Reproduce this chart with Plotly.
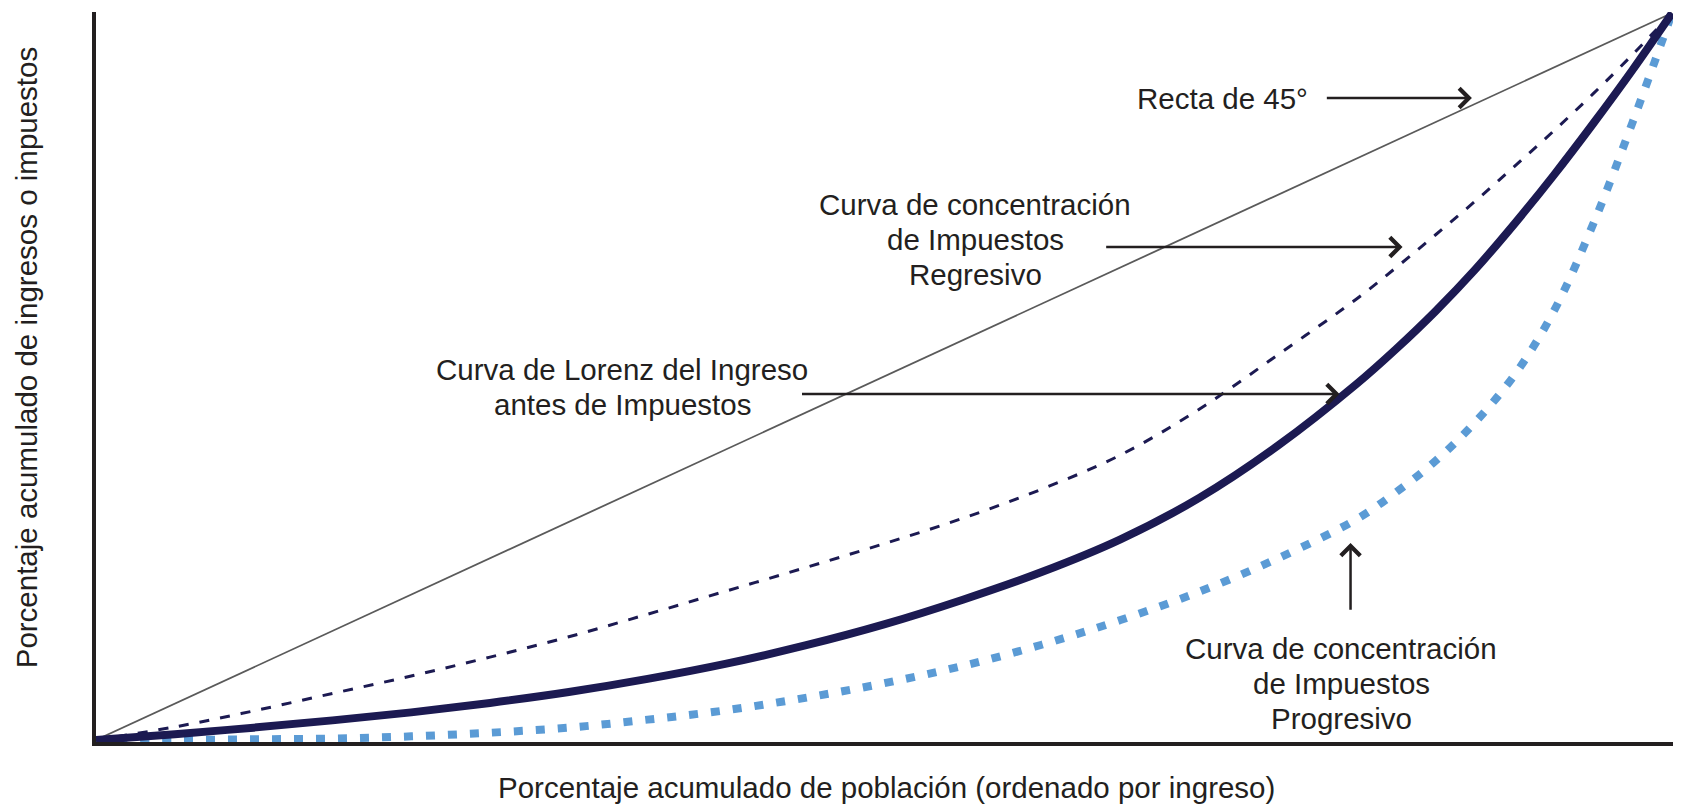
import plotly.graph_objects as go

# ---- data ----
pop_share = [0.0, 0.05, 0.10, 0.15, 0.20, 0.25, 0.30, 0.35, 0.40, 0.45, 0.50,
             0.55, 0.60, 0.65, 0.70, 0.75, 0.80, 0.825, 0.85, 0.875, 0.90,
             0.925, 0.95, 0.975, 1.0]

line_45_x = [0.0, 1.0]
line_45 = [0.0, 1.0]

regresivo = [0.0, 0.018, 0.040, 0.064, 0.088, 0.114, 0.142, 0.173, 0.205, 0.237, 0.270,
             0.305, 0.345, 0.392, 0.455, 0.530, 0.607, 0.650, 0.695, 0.741, 0.789,
             0.838, 0.889, 0.943, 1.0]

lorenz = [0.0, 0.008, 0.017, 0.027, 0.038, 0.051, 0.066, 0.084, 0.105, 0.130, 0.159,
          0.193, 0.231, 0.276, 0.333, 0.405, 0.490, 0.538, 0.590, 0.647, 0.710,
          0.777, 0.848, 0.922, 1.0]

progresivo = [0.0, 0.0, 0.001, 0.002, 0.005, 0.010, 0.017, 0.028, 0.041, 0.058, 0.078,
              0.102, 0.131, 0.165, 0.204, 0.250, 0.304, 0.341, 0.384, 0.437, 0.502,
              0.590, 0.710, 0.850, 1.0]

x_title = "Porcentaje acumulado de población (ordenado por ingreso)"
y_title = "Porcentaje acumulado de ingresos o impuestos"

label_recta = ["Recta de 45°"]
label_regresivo = ["Curva de concentración", "de Impuestos", "Regresivo"]
label_lorenz = ["Curva de Lorenz del Ingreso", "antes de Impuestos"]
label_progresivo = ["Curva de concentración", "de Impuestos", "Progresivo"]

# ---- styling ----
FONT = "Liberation Sans, Arial, Helvetica, sans-serif"
FS = 29.5
TXT = "#231f20"
NAVY = "#1c1a52"
BLUE = "#5b9bd5"

fig = go.Figure()

fig.add_trace(go.Scatter(x=line_45_x, y=line_45, mode="lines",
                         line=dict(color="#5a5a5a", width=1.8), hoverinfo="skip"))
fig.add_trace(go.Scatter(x=pop_share, y=progresivo, mode="lines",
                         line=dict(color=BLUE, width=8, dash="9px,13px", shape="spline"),
                         hoverinfo="skip"))
fig.add_trace(go.Scatter(x=pop_share, y=regresivo, mode="lines",
                         line=dict(color=NAVY, width=3, dash="10px,11px", shape="spline"),
                         hoverinfo="skip"))
fig.add_trace(go.Scatter(x=pop_share, y=lorenz, mode="lines",
                         line=dict(color=NAVY, width=8, shape="spline"),
                         hoverinfo="skip"))

annotations = []

def text_block(lines, x, y_first, step):
    for i, t in enumerate(lines):
        annotations.append(dict(x=x, y=y_first - i * step, xref="x", yref="y",
                                text=t, showarrow=False, xanchor="center", yanchor="middle",
                                font=dict(family=FONT, size=FS, color=TXT)))

STEP = 35 / 727.0
text_block(label_recta, 0.7145, 0.883, STEP)
text_block(label_regresivo, 0.558, 0.737, STEP)
text_block(label_lorenz, 0.334, 0.509, STEP)
text_block(label_progresivo, 0.790, 0.126, STEP)

def arrow(x_tip, y_tip, x_tail, y_tail):
    annotations.append(dict(x=x_tip, y=y_tip, ax=x_tail, ay=y_tail,
                            xref="x", yref="y", axref="x", ayref="y",
                            text="", showarrow=True, arrowhead=4, arrowsize=1.5,
                            arrowwidth=2.5, arrowcolor=TXT, standoff=0))

arrow(0.873, 0.883, 0.780, 0.883)   # Recta de 45
arrow(0.829, 0.678, 0.640, 0.678)   # Regresivo
arrow(0.789, 0.476, 0.447, 0.476)   # Lorenz
arrow(0.796, 0.271, 0.796, 0.177)   # Progresivo

annotations.append(dict(x=0.5006, y=-0.063, xref="paper", yref="paper", text=x_title,
                        showarrow=False, xanchor="center", yanchor="middle",
                        font=dict(family=FONT, size=FS, color=TXT)))
annotations.append(dict(x=-0.0443, y=0.527, xref="paper", yref="paper", text=y_title,
                        showarrow=False, xanchor="center", yanchor="middle", textangle=-90,
                        font=dict(family=FONT, size=FS, color=TXT)))

# page body has an 8px margin, so the figure is made 8px smaller and margins shifted
fig.update_layout(
    width=1673, height=796,
    margin=dict(l=88, r=5, t=4, b=62),
    paper_bgcolor="white", plot_bgcolor="white",
    showlegend=False,
    annotations=annotations,
    xaxis=dict(range=[0, 1.0025], showgrid=False, zeroline=False, showticklabels=False,
               ticks="", showline=True, linecolor=TXT, linewidth=4, fixedrange=True),
    yaxis=dict(range=[-0.00275, 1.00138], showgrid=False, zeroline=False, showticklabels=False,
               ticks="", showline=True, linecolor=TXT, linewidth=4, fixedrange=True),
)

fig.write_html("out.html")
